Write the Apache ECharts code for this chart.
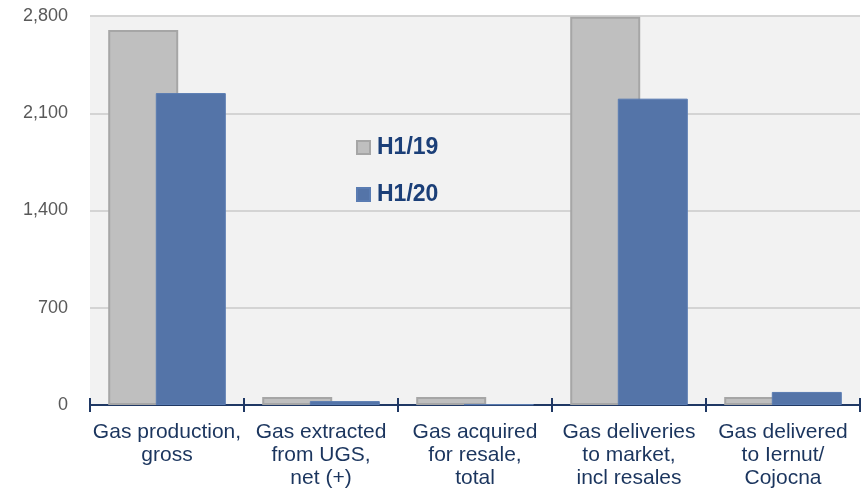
<!DOCTYPE html>
<html>
<head>
<meta charset="utf-8">
<script src="https://cdn.jsdelivr.net/npm/echarts@6/dist/echarts.min.js"></script>
<style>
    html, body { margin: 0; padding: 0; background: #ffffff; }
    #main { width: 864px; height: 491px; }
</style>
</head>
<body>
<div id="main"></div>
<script>
var categories = [
    'Gas production,\ngross',
    'Gas extracted\nfrom UGS,\nnet (+)',
    'Gas acquired\nfor resale,\ntotal',
    'Gas deliveries\nto market,\nincl resales',
    'Gas delivered\nto Iernut/\nCojocna'
];
var h119 = [2700, 58, 58, 2795, 58];
var h120 = [2245, 28, 5, 2205, 94];
var yTicks = [0, 700, 1400, 2100, 2800];

var myChart = echarts.init(document.getElementById('main'));

var option = {
    animation: false,
    textStyle: { fontFamily: '"Liberation Sans", Arial, sans-serif' },
    grid: {
        left: 90,
        right: 4,
        top: 16,
        bottom: 86,
        show: true,
        backgroundColor: '#f2f2f2',
        borderWidth: 0
    },
    legend: {
        orient: 'vertical',
        left: 351,
        top: 131,
        icon: 'rect',
        itemWidth: 13,
        itemHeight: 13,
        itemGap: 24,
        textStyle: {
            color: '#1b3f78',
            fontSize: 23,
            fontWeight: 'bold',
            padding: [0, 0, 0, 2]
        },
        data: ['H1/19', 'H1/20']
    },
    xAxis: [{
        type: 'category',
        data: categories,
        axisLine: { lineStyle: { color: '#1f3864', width: 2 } },
        axisTick: { show: true, length: 7, lineStyle: { color: '#1f3864', width: 2 } },
        axisLabel: {
            color: '#1b355e',
            fontSize: 21,
            lineHeight: 23,
            margin: 16,
            interval: 0
        }
    }, {
        type: 'category',
        data: categories,
        position: 'bottom',
        axisLine: { show: false },
        axisTick: { show: true, inside: true, length: 7, lineStyle: { color: '#1f3864', width: 2 } },
        axisLabel: { show: false }
    }],
    yAxis: {
        type: 'value',
        min: yTicks[0],
        max: yTicks[yTicks.length - 1],
        interval: 700,
        axisLine: { show: false },
        axisTick: { show: false },
        splitLine: { lineStyle: { color: '#d4d4d4', width: 2 } },
        axisLabel: {
            color: '#595959',
            fontSize: 18,
            margin: 22,
            formatter: function (v) { return v.toLocaleString('en-US'); }
        }
    },
    series: [{
        name: 'H1/19',
        type: 'bar',
        data: h119,
        barWidth: 70,
        barGap: '-32%',
        itemStyle: { color: '#bfbfbf', borderColor: '#a6a6a6', borderWidth: 2 }
    }, {
        name: 'H1/20',
        type: 'bar',
        data: h120,
        barWidth: 70,
        itemStyle: { color: '#5474a8', borderColor: '#5a7cb2', borderWidth: 1 }
    }]
};

myChart.setOption(option);
</script>
</body>
</html>
